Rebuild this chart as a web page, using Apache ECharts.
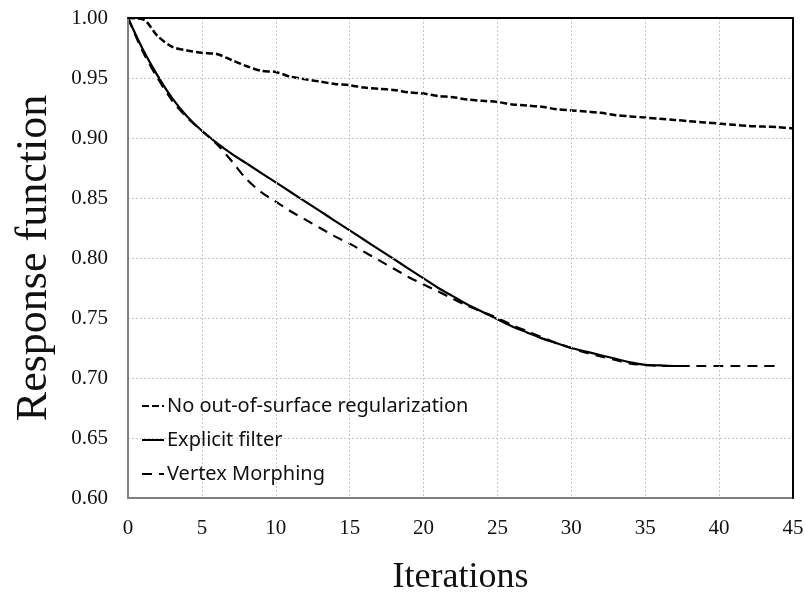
<!DOCTYPE html>
<html>
<head>
<meta charset="utf-8">
<script src="https://cdn.jsdelivr.net/npm/echarts@6/dist/echarts.min.js"></script>
<style>html,body{margin:0;padding:0;background:#fff;}#chart{width:805px;height:592px;}</style>
</head>
<body>
<div id="chart"></div>
<script>
var seriesNames = ['No out-of-surface regularization', 'Explicit filter', 'Vertex Morphing'];
var xTicks = [0, 5, 10, 15, 20, 25, 30, 35, 40, 45];
var yTicks = [0.60, 0.65, 0.70, 0.75, 0.80, 0.85, 0.90, 0.95, 1.00];

var noRegIter = [0,1,2,3,4,5,6,7,8,9,10,11,12,13,14,15,16,17,18,19,20,21,22,23,24,25,26,27,28,29,30,31,32,33,34,35,36,37,38,39,40,41,42,43,44,45];
var noRegVal = [1.000,0.999,0.985,0.976,0.973,0.971,0.970,0.965,0.960,0.956,0.955,0.951,0.949,0.947,0.945,0.944,0.942,0.941,0.940,0.938,0.937,0.935,0.934,0.932,0.931,0.930,0.928,0.927,0.926,0.924,0.923,0.922,0.921,0.919,0.918,0.917,0.916,0.915,0.914,0.913,0.912,0.911,0.910,0.9095,0.909,0.908];

var explicitIter = [0,1,2,3,4,5,6,7,8,9,10,11,12,13,14,15,16,17,18,19,20,21,22,23,24,25,26,27,28,29,30,31,32,33,34,35,36,37,38];
var explicitVal = [1.000,0.974,0.952,0.933,0.918,0.906,0.896,0.887,0.879,0.871,0.863,0.855,0.847,0.839,0.831,0.823,0.815,0.807,0.799,0.791,0.783,0.775,0.768,0.761,0.755,0.749,0.743,0.738,0.733,0.729,0.725,0.722,0.719,0.716,0.713,0.711,0.7105,0.710,0.710];

var vmIter = [0,1,2,3,4,5,6,7,8,9,10,11,12,13,14,15,16,17,18,19,20,21,22,23,24,25,26,27,28,29,30,31,32,33,34,35,36,37,38,39,40,41,42,43,44];
var vmVal = [1.000,0.972,0.950,0.931,0.917,0.906,0.895,0.881,0.866,0.855,0.847,0.839,0.832,0.825,0.818,0.812,0.805,0.798,0.791,0.784,0.778,0.772,0.766,0.760,0.755,0.750,0.744,0.739,0.734,0.729,0.725,0.721,0.718,0.715,0.712,0.711,0.710,0.710,0.710,0.710,0.710,0.710,0.710,0.710,0.710];

function pairs(xs, ys) { return xs.map(function (x, i) { return [x, ys[i]]; }); }

var chart = echarts.init(document.getElementById('chart'), null, {renderer: 'canvas'});
var serif = '"Liberation Serif", "Times New Roman", serif';
var gridLine = {show: true, lineStyle: {color: '#c8c8c8', width: 1, type: [2, 2]}};
var frameAxis = {
  axisLine: {show: true, onZero: false, lineStyle: {color: '#000', width: 2}},
  axisTick: {show: false}, axisLabel: {show: false}, splitLine: {show: false}, z: 5
};
chart.setOption({
  animation: false,
  backgroundColor: '#ffffff',
  grid: {left: 128, right: 12, top: 18, bottom: 94, containLabel: false, outerBoundsMode: 'none'},
  legend: {
    orient: 'vertical', left: 141, top: 396, padding: 0, itemGap: 14, itemWidth: 22, itemHeight: 14,
    data: seriesNames,
    itemStyle: {color: 'rgba(0,0,0,0)', borderColor: 'rgba(0,0,0,0)', borderWidth: 0},
    textStyle: {fontFamily: '"Noto Sans", "Open Sans", sans-serif', fontSize: 20, color: '#111', padding: [0, 0, 0, -2]}
  },
  xAxis: [{
    type: 'value', min: 0, max: 45, interval: 5,
    name: 'Iterations', nameLocation: 'middle', nameGap: 62,
    nameTextStyle: {fontFamily: serif, fontSize: 36, color: '#111'},
    axisLine: {show: true, onZero: false, lineStyle: {color: '#808080', width: 2}},
    axisTick: {show: false},
    axisLabel: {margin: 20, fontFamily: serif, fontSize: 21, color: '#111',
      customValues: xTicks, formatter: function (v) { return String(v); }},
    splitLine: gridLine, z: 4
  }, Object.assign({type: 'value', min: 0, max: 45, interval: 5, position: 'top'}, frameAxis)],
  yAxis: [{
    type: 'value', min: 0.6, max: 1.0, interval: 0.05,
    name: 'Response function', nameLocation: 'middle', nameGap: 72,
    nameTextStyle: {fontFamily: serif, fontSize: 44, color: '#111'},
    axisLine: {show: true, onZero: false, lineStyle: {color: '#808080', width: 2}},
    axisTick: {show: false},
    axisLabel: {margin: 20, fontFamily: serif, fontSize: 21, color: '#111',
      customValues: yTicks, formatter: function (v) { return v.toFixed(2); }},
    splitLine: gridLine, z: 4
  }, Object.assign({type: 'value', min: 0.6, max: 1.0, interval: 0.05, position: 'right'}, frameAxis)],
  series: [
    {name: seriesNames[0], type: 'line', data: pairs(noRegIter, noRegVal), symbol: 'none', smooth: 0.3,
      lineStyle: {color: '#000', width: 2.5, type: [7, 3]}, itemStyle: {color: '#000'}},
    {name: seriesNames[1], type: 'line', data: pairs(explicitIter, explicitVal), symbol: 'none', smooth: 0.3,
      lineStyle: {color: '#000', width: 2.2, type: 'solid'}, itemStyle: {color: '#000'}},
    {name: seriesNames[2], type: 'line', data: pairs(vmIter, vmVal), symbol: 'none', smooth: 0.3,
      lineStyle: {color: '#000', width: 2.2, type: [10, 7]}, itemStyle: {color: '#000'}}
  ]
});
</script>
</body>
</html>
